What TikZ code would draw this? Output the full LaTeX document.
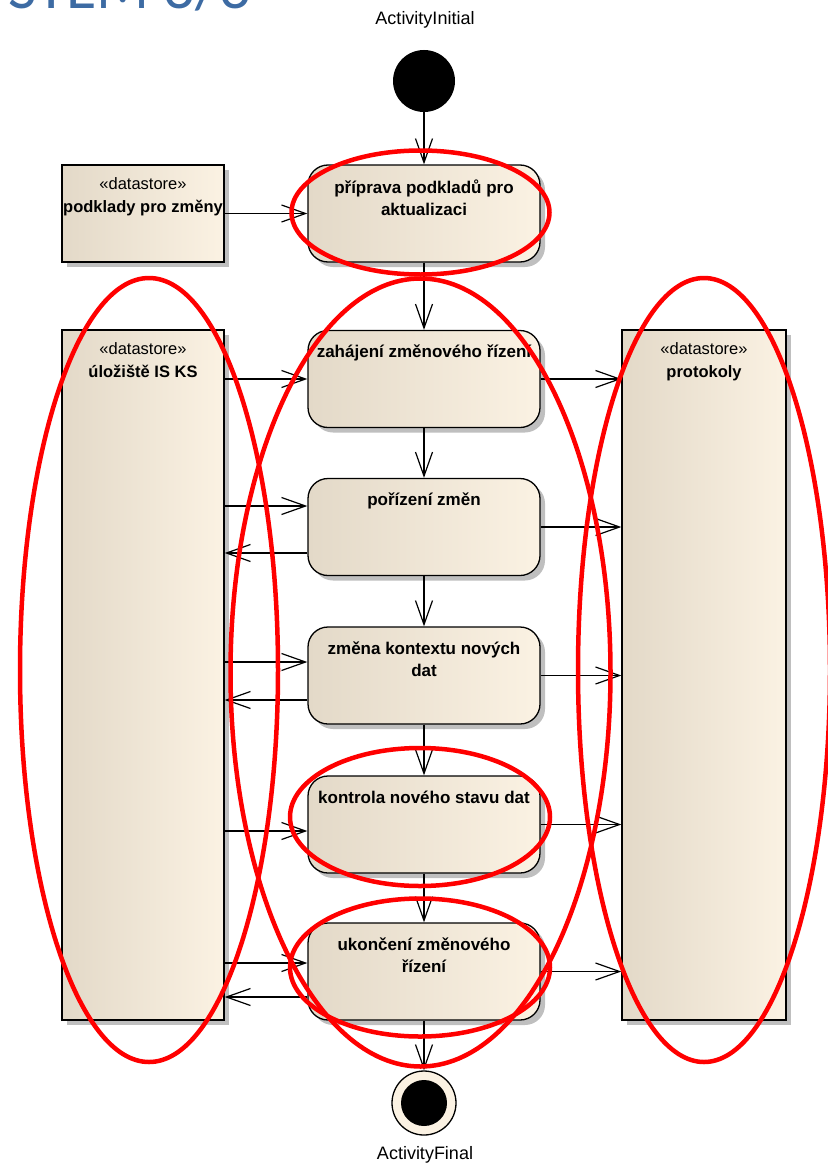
\documentclass[tikz,border=0pt]{standalone}
\usepackage{fontspec}
\setmainfont{Liberation Sans}
\newfontfamily\titlefont{Carlito}
\usetikzlibrary{arrows.meta,shadows}
\definecolor{fillleft}{HTML}{E3D9C8}
\definecolor{fillright}{HTML}{FBF2E3}
\definecolor{titleblue}{HTML}{3D6BA3}
\tikzset{
  boxshadow/.style={drop shadow={shadow xshift=5pt, shadow yshift=-5pt, fill=black!25, opacity=1}},
  action/.style={draw, line width=1.3pt, rounded corners=20pt, minimum width=232pt,
    minimum height=97pt, left color=fillleft, right color=fillright, boxshadow},
  store/.style={draw, line width=1.3pt, minimum width=162pt,
    left color=fillleft, right color=fillright, boxshadow},
  acttext/.style={font=\fontsize{17}{22}\selectfont\bfseries, align=center, inner sep=0pt},
  storetext/.style={font=\fontsize{16.5}{23}\selectfont, align=center, inner sep=0pt},
  flow/.style={line width=1.2pt, -{Straight Barb[length=24pt,width=17pt,line width=1.2pt]}},
  redmark/.style={draw=red, line width=4.5pt},
  caption/.style={font=\fontsize{18}{20}\selectfont}
}
\newcommand{\storelabel}[1]{«datastore»\\{\fontsize{16.5}{23}\selectfont\bfseries #1}}
\begin{document}
\begin{tikzpicture}
[x=1pt, y=-1pt]
\useasboundingbox (0,0) rectangle (827,1164);
  \node [font=\titlefont\fontsize{62}{62}\selectfont, text=titleblue, anchor=base east,
    inner sep=0pt] (title) at (251,9) {SYSTÉM 3/3};
  % start and end
  \node [caption] (initlabel) at (425,20) {ActivityInitial};
  \node [circle, fill=black, minimum size=62pt] (init) at (424,81) {};
  \node [circle, draw, line width=1.3pt, fill=fillright, minimum size=64pt,
    path picture={\fill [black] (path picture bounding box.center) circle (23pt);}] (final) at (424,1103) {};
  \node [caption] (finallabel) at (425,1155) {ActivityFinal};
  % datastores
  \node [store, minimum height=97pt,
    label={[storetext, anchor=north, yshift=-13pt]north:\storelabel{podklady pro změny}}]
    (ds1) at (143,213.5) {};
  \node [store, minimum height=690pt,
    label={[storetext, anchor=north, yshift=-13pt]north:\storelabel{úložiště IS KS}}]
    (st2) at (143,675) {};
  \node [store, minimum width=164pt, minimum height=690pt,
    label={[storetext, anchor=north, yshift=-13pt]north:\storelabel{protokoly}}]
    (st3) at (704,675) {};
  % actions
  \node [action, label={[acttext, anchor=north, yshift=-15pt]north:příprava podkladů pro\\aktualizaci}]
    (a1) at (424,213.5) {};
  \node [action, label={[acttext, anchor=north, yshift=-15pt]north:zahájení změnového řízení}]
    (a2) at (424,379) {};
  \node [action, label={[acttext, anchor=north, yshift=-15pt]north:pořízení změn}]
    (a3) at (424,527) {};
  \node [action, label={[acttext, anchor=north, yshift=-15pt]north:změna kontextu nových\\dat}]
    (a4) at (424,675.5) {};
  \node [action, label={[acttext, anchor=north, yshift=-15pt]north:kontrola nového stavu dat}]
    (a5) at (424,824.5) {};
  \node [action, label={[acttext, anchor=north, yshift=-15pt]north:ukončení změnového\\řízení}]
    (a6) at (424,971.5) {};
  % control flow
  \foreach \from/\to in {init/a1,a1/a2,a2/a3,a3/a4,a4/a5,a5/a6,a6/final}
  \draw [flow] (\from) -- (\to);
  \draw [flow] (ds1) -- (a1);
  % object flow from and to the stores
  \foreach \act/\inshift in {a2/0,a3/21,a4/13.5,a5/-6.5,a6/8.5}
  \draw [flow] ([yshift=\inshift pt]\act.west -| st2.east) -- ([yshift=\inshift pt]\act.west);
  \foreach \act/\outshift in {a3/-26,a4/-24.5,a6/-25.5}
  \draw [flow] ([yshift=\outshift pt]\act.west) -- ([yshift=\outshift pt]\act.west -| st2.east);
  \foreach \act in {a2,a3,a4,a5,a6}
  \draw [flow] (\act.east) -- (\act.east -| st3.west);
  % red marks
  \draw [redmark] (420.5,212.5) ellipse [x radius=129pt, y radius=62pt];
  \draw [redmark] (149,670) ellipse [x radius=129pt, y radius=392pt];
  \draw [redmark] (420.5,672.5) ellipse [x radius=190pt, y radius=394pt];
  \draw [redmark] (704,670) ellipse [x radius=126pt, y radius=392pt];
  \draw [redmark] (420,817) ellipse [x radius=130pt, y radius=69pt];
  \draw [redmark] (420,967.5) ellipse [x radius=130pt, y radius=69pt];
\end{tikzpicture}
\end{document}
